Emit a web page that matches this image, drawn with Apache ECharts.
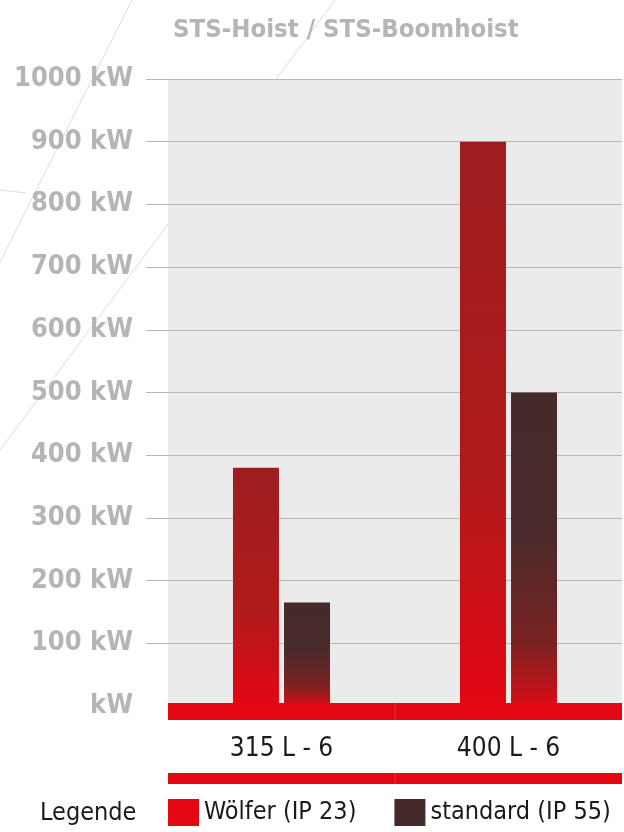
<!DOCTYPE html>
<html><head><meta charset="utf-8">
<script src="https://cdn.jsdelivr.net/npm/echarts@6/dist/echarts.min.js"></script>
<style>html,body{margin:0;padding:0;background:#fff}#c{width:624px;height:832px}</style>
</head><body><div id="c"></div>
<script>
const categories = ['315 L - 6', '400 L - 6'];
const woelfer = [380, 900];
const standard = [165, 500];
const yTickValues = [100, 200, 300, 400, 500, 600, 700, 800, 900, 1000];
const seriesNames = ['Wölfer (IP 23)', 'standard (IP 55)'];
const titleText = 'STS-Hoist / STS-Boomhoist';
const legendLabel = 'Legende';

const FN = '"Liberation Sans Narrow","DejaVu Sans Condensed",sans-serif';
const G = {left: 168, right: 2, top: 79, bottom: 126};
const W = 624, H = 832;
const RED = '#e30613', DARK = '#452a2a', GREY = '#b3b5b6';

const chart = echarts.init(document.getElementById('c'), null, {renderer: 'canvas'});
chart.setOption({
  animation: false,
  title: {text: titleText, left: 168, top: 12, textStyle: {fontFamily: FN, fontWeight: 'bold', fontSize: 25.5, color: GREY}},
  grid: {left: G.left, right: G.right, top: G.top, bottom: G.bottom, show: true, backgroundColor: '#ebebeb', borderWidth: 0,
         outerBoundsMode: 'none', containLabel: false},
  legend: {
    left: 163, bottom: 1, itemWidth: 31, itemHeight: 27, itemGap: 38, icon: 'rect', width: 470,
    textStyle: {fontFamily: FN, fontSize: 25, color: '#1a1a1a'},
    data: [{name: seriesNames[0], itemStyle: {color: RED}}, {name: seriesNames[1], itemStyle: {color: DARK}}]
  },
  xAxis: {
    type: 'category', data: categories,
    axisLine: {show: false}, axisTick: {show: false},
    axisLabel: {fontFamily: FN, fontSize: 26, color: '#1a1a1a', margin: 30}
  },
  yAxis: {
    type: 'value', min: 0, max: 1000, interval: 100,
    axisLine: {show: false},
    axisTick: {show: true, length: 22, customValues: yTickValues, lineStyle: {color: '#b5b5b5', width: 1}},
    axisLabel: {fontFamily: FN, fontWeight: 'bold', fontSize: 27, color: GREY, margin: 35,
      formatter: v => v === 0 ? 'kW' : v + ' kW'},
    splitLine: {lineStyle: {color: '#b8b8b8', width: 1}}
  },
  series: [
    {name: seriesNames[0], type: 'bar', data: woelfer, barWidth: 46, barGap: '11%',
     itemStyle: {color: new echarts.graphic.LinearGradient(0, 0, 0, 1, [
       {offset: 0, color: '#9e1d1f'}, {offset: 0.6, color: '#b01a1b'}, {offset: 1, color: RED}])}},
    {name: seriesNames[1], type: 'bar', data: standard, barWidth: 46,
     itemStyle: {color: new echarts.graphic.LinearGradient(0, 0, 0, 1, [
       {offset: 0, color: '#452a2a'}, {offset: 0.45, color: '#4a2a2a'}, {offset: 0.8, color: '#7a2222'}, {offset: 1, color: '#d80d16'}])}}
  ]
});

// decoration derived from the chart's own scale
const y0 = chart.convertToPixel({yAxisIndex: 0}, 0);
const xL = G.left, xR = W - G.right;
const xMid = (chart.convertToPixel({xAxisIndex: 0}, categories[0]) + chart.convertToPixel({xAxisIndex: 0}, categories[1])) / 2;
const deco = '#dcdcdc';
chart.setOption({
  graphic: [
    {type: 'line', z: -10, shape: {x1: 132, y1: 0, x2: 0, y2: 262}, style: {stroke: deco, lineWidth: 1}},
    {type: 'line', z: -10, shape: {x1: 335, y1: 0, x2: 0, y2: 450}, style: {stroke: deco, lineWidth: 1}},
    {type: 'line', z: -10, shape: {x1: 0, y1: 190, x2: 26, y2: 193}, style: {stroke: deco, lineWidth: 1}},
    {type: 'rect', z: 10, shape: {x: xL, y: y0 - 3, width: xR - xL, height: 17}, style: {fill: RED}},
    {type: 'rect', z: 11, shape: {x: xMid - 0.5, y: y0 - 3, width: 1, height: 17}, style: {fill: '#e6353c'}},
    {type: 'rect', z: 10, shape: {x: xL, y: y0 + 67, width: xR - xL, height: 11}, style: {fill: RED}},
    {type: 'rect', z: 11, shape: {x: xMid - 0.5, y: y0 + 67, width: 1, height: 11}, style: {fill: '#e6353c'}},
    {type: 'text', left: 40, top: 801, style: {text: legendLabel, font: '25px ' + FN, fill: '#1a1a1a'}}
  ]
});
</script></body></html>
